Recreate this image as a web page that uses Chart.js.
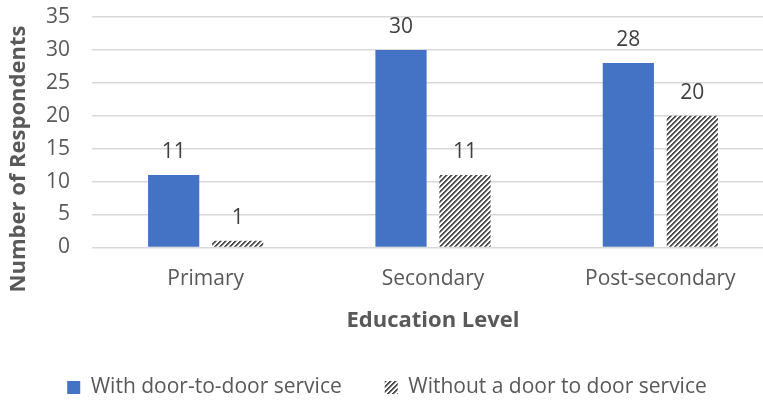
<!DOCTYPE html>
<html>
<head>
<meta charset="utf-8">
<script src="https://cdn.jsdelivr.net/npm/chart.js@4/dist/chart.umd.min.js"></script>
<style>
  html, body { margin: 0; padding: 0; background: #fff; overflow: hidden; }
  #wrap { position: absolute; left: 0; top: 0; width: 778px; height: 403px; }
</style>
</head>
<body>
<div id="wrap"><canvas id="eduChart" width="778" height="403"></canvas></div>
<script>
// Respondents by education level
const educationLevels = ['Primary', 'Secondary', 'Post-secondary'];
const withService = [11, 30, 28];
const withoutService = [1, 11, 20];
const seriesNames = ['With door-to-door service', 'Without a door to door service'];
const yTicks = [0, 5, 10, 15, 20, 25, 30, 35];

const FONT = "'Open Sans', sans-serif";
const TEXT = '#595959';

const canvas = document.getElementById('eduChart');
const ctx = canvas.getContext('2d');

// diagonal hatch fill, stripes running up to the right
function makeHatch() {
    const tile = document.createElement('canvas');
    tile.width = 10;
    tile.height = 10;
    const g = tile.getContext('2d');
    g.fillStyle = '#ffffff';
    g.fillRect(0, 0, 10, 10);
    for (let y = 0; y < 10; y++) {
        for (let x = 0; x < 10; x++) {
            const k = (x + y) % 5;
            if (k < 2) {
                g.fillStyle = '#4f4f4f';
                g.fillRect(x, y, 1, 1);
            } else if (k === 2) {
                g.fillStyle = '#a8a8a8';
                g.fillRect(x, y, 1, 1);
            }
        }
    }
    return ctx.createPattern(tile, 'repeat');
}
const hatch = makeHatch();

// value printed above each bar
const barValues = {
    id: 'barValues',
    afterDatasetsDraw(chart) {
        const c = chart.ctx;
        c.save();
        c.font = '21px ' + FONT;
        c.fillStyle = '#404040';
        c.textAlign = 'center';
        c.textBaseline = 'middle';
        chart.data.datasets.forEach((ds, i) => {
            chart.getDatasetMeta(i).data.forEach((bar, j) => {
                c.fillText(ds.data[j], bar.x, bar.y - 23);
            });
        });
        c.restore();
    }
};

// rotated y axis title
const yTitle = {
    id: 'yTitle',
    afterDraw(chart) {
        const c = chart.ctx;
        c.save();
        c.translate(19, 159);
        c.rotate(-Math.PI / 2);
        c.font = 'bold 22px ' + FONT;
        c.fillStyle = TEXT;
        c.textAlign = 'center';
        c.textBaseline = 'middle';
        c.fillText('Number of Respondents', 0, 0);
        c.restore();
    }
};

new Chart(ctx, {
    type: 'bar',
    data: {
        labels: educationLevels,
        datasets: [
            {
                label: seriesNames[0],
                data: withService,
                backgroundColor: '#4472C4',
                borderWidth: 0
            },
            {
                label: seriesNames[1],
                data: withoutService,
                backgroundColor: hatch,
                borderWidth: 0
            }
        ]
    },
    options: {
        responsive: false,
        animation: false,
        events: [],
        categoryPercentage: 0.563,
        barPercentage: 0.8,
        layout: { padding: { top: 17, right: 4, bottom: -5, left: 0 } },
        scales: {
            x: {
                grid: { display: false },
                border: { display: false },
                ticks: { color: TEXT, font: { family: FONT, size: 21 }, padding: 11 },
                title: {
                    display: true,
                    text: 'Education Level',
                    color: TEXT,
                    font: { family: FONT, size: 22, weight: 'bold' },
                    padding: { top: 5, bottom: 0 }
                }
            },
            y: {
                min: 0,
                max: 35,
                afterBuildTicks(scale) {
                    scale.ticks = yTicks.map(v => ({ value: v }));
                },
                afterFit(scale) {
                    scale.width = 92;
                    scale.paddingTop = 0;
                    scale.paddingBottom = 0;
                },
                grid: { color: '#d9d9d9', lineWidth: 1.5, drawTicks: false },
                border: { display: false },
                ticks: { color: TEXT, font: { family: FONT, size: 21 }, padding: 22 }
            }
        },
        plugins: {
            legend: {
                position: 'bottom',
                labels: {
                    color: TEXT,
                    font: { family: FONT, size: 21 },
                    boxWidth: 13,
                    boxHeight: 13,
                    padding: 43
                }
            },
            tooltip: { enabled: false }
        }
    },
    plugins: [barValues, yTitle]
});
</script>
</body>
</html>
